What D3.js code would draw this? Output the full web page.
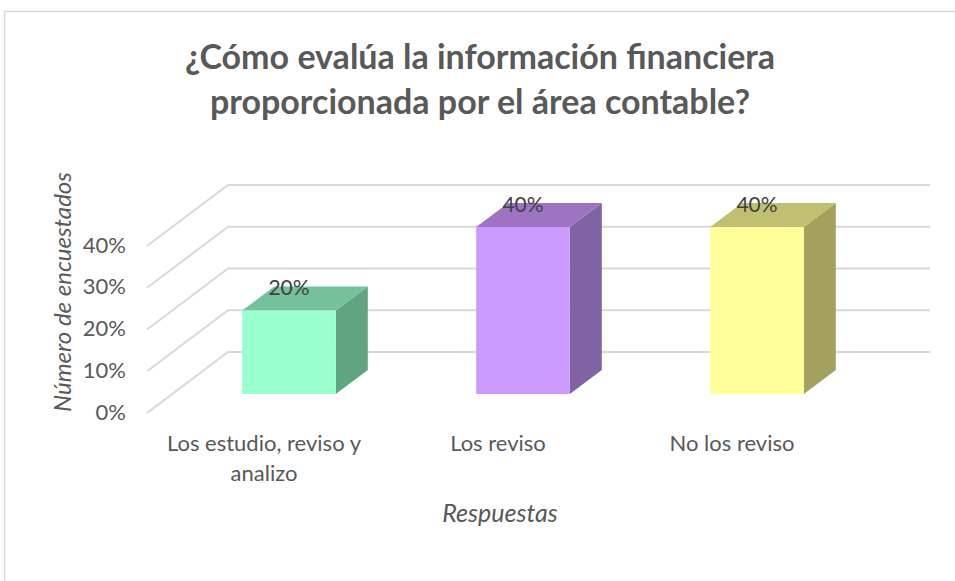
<!DOCTYPE html>
<html>
<head>
<meta charset="utf-8">
<script src="https://cdn.jsdelivr.net/npm/d3@7"></script>
<style>
  html, body { margin: 0; padding: 0; background: #fff; }
  svg { display: block; font-family: Lato, "Noto Sans", sans-serif; }
</style>
</head>
<body>
<svg id="chart" width="955" height="581"></svg>
<script>
// ---- data ----
const titleLines = ["¿Cómo evalúa la información financiera", "proporcionada por el área contable?"];
const categories = ["Los estudio, reviso y analizo", "Los reviso", "No los reviso"];
const values = [0.20, 0.40, 0.40];
const tickValues = [0, 0.1, 0.2, 0.3, 0.4];
const frontColors = ["#99FFCC", "#CC99FF", "#FFFF99"];
const topColors = ["#75C19B", "#9E74C2", "#C0C072"];
const sideColors = ["#60A57F", "#7F63A3", "#A2A25E"];
const yTitle = "Número de encuestados";
const xTitle = "Respuestas";

// ---- layout ----
const W = 955, H = 581;
const backLeft = 228, backRight = 930;
const floorDX = -81, floorDY = 61;          // back wall -> front edge of floor
const barFront = { dx: -56, dy: 42 };       // back wall -> bar front face
const barBack = { dx: -24, dy: 18 };        // back wall -> bar back face

const svg = d3.select("#chart");

// chart frame
svg.append("rect").attr("x", 4.5).attr("y", 11.5).attr("width", 1000).attr("height", 1000)
  .attr("fill", "#fff").attr("stroke", "#d9d9d9").attr("stroke-width", 1.5);

const x = d3.scaleBand().domain(categories).range([backLeft, backRight])
  .paddingInner(0.6).paddingOuter(0.3);
const y = d3.scaleLinear().domain([0, 0.4]).range([352, 185]);
const yFront = d3.scaleLinear().domain([0, 0.4]).range([352 + floorDY, 185 + floorDY]);

// gridlines (back wall + side wall)
const grid = svg.append("g").attr("stroke", "#d9d9d9").attr("stroke-width", 2).attr("fill", "none");
grid.selectAll("path").data(tickValues).join("path")
  .attr("d", t => `M${backRight},${y(t)}H${backLeft}l${floorDX},${floorDY}`);

// y axis labels
const yAxis = svg.append("g")
  .attr("transform", `translate(${backLeft + floorDX - 21},-1)`)
  .call(d3.axisLeft(yFront).tickValues(tickValues).tickFormat(d3.format(".0%")).tickSize(0).tickPadding(0));
yAxis.select(".domain").remove();
yAxis.selectAll("text").attr("fill", "#595959").style("font-size", "22px").style("font-family", "Lato, sans-serif");

// bars
const bars = svg.append("g");
categories.forEach((c, i) => {
  const x0 = x(c), x1 = x0 + x.bandwidth();
  const yv = y(values[i]), y0 = y(0);
  const g = bars.append("g");
  g.append("path").attr("fill", sideColors[i])
    .attr("d", `M${x1 + barFront.dx},${yv + barFront.dy}L${x1 + barBack.dx},${yv + barBack.dy}L${x1 + barBack.dx},${y0 + barBack.dy}L${x1 + barFront.dx},${y0 + barFront.dy}Z`);
  g.append("path").attr("fill", topColors[i])
    .attr("d", `M${x0 + barFront.dx},${yv + barFront.dy}L${x1 + barFront.dx},${yv + barFront.dy}L${x1 + barBack.dx},${yv + barBack.dy}L${x0 + barBack.dx},${yv + barBack.dy}Z`);
  g.append("rect").attr("fill", frontColors[i])
    .attr("x", x0 + barFront.dx).attr("y", yv + barFront.dy)
    .attr("width", x.bandwidth()).attr("height", y0 - yv);
  g.append("text")
    .attr("x", x0 + barFront.dx + x.bandwidth() / 2)
    .attr("y", yv + barBack.dy)
    .attr("text-anchor", "middle").attr("dominant-baseline", "central")
    .attr("fill", "#404040").style("font-size", "21px")
    .text(d3.format(".0%")(values[i]));
});

// category labels (wrapped)
function wrap(textSel, width) {
  textSel.each(function () {
    const text = d3.select(this);
    const words = text.text().split(/\s+/);
    const xPos = text.attr("x"), yPos = +text.attr("y");
    text.text(null);
    let line = [], lineNo = 0;
    let tspan = text.append("tspan").attr("x", xPos).attr("y", yPos);
    words.forEach(w => {
      line.push(w);
      tspan.text(line.join(" "));
      if (tspan.node().getComputedTextLength() > width && line.length > 1) {
        line.pop();
        tspan.text(line.join(" "));
        line = [w];
        lineNo++;
        tspan = text.append("tspan").attr("x", xPos).attr("y", yPos + lineNo * 30).text(w);
      }
    });
  });
}
svg.append("g").selectAll("text").data(categories).join("text")
  .attr("x", d => x(d) + x.bandwidth() / 2 + floorDX)
  .attr("y", y(0) + floorDY + 38)
  .attr("text-anchor", "middle").attr("fill", "#595959").style("font-size", "22px")
  .text(d => d)
  .call(wrap, 220);

// axis titles
svg.append("text")
  .attr("transform", `translate(71,292) rotate(-90)`)
  .attr("text-anchor", "middle").attr("fill", "#595959")
  .style("font-size", "24px").style("font-style", "italic")
  .text(yTitle);
svg.append("text")
  .attr("x", 500).attr("y", 522)
  .attr("text-anchor", "middle").attr("fill", "#595959")
  .style("font-size", "25px").style("font-style", "italic")
  .text(xTitle);

// title
svg.append("g").selectAll("text").data(titleLines).join("text")
  .attr("x", 480).attr("y", (d, i) => 69 + i * 45)
  .attr("text-anchor", "middle").attr("fill", "#595959")
  .style("font-size", "34px").style("font-weight", "bold")
  .text(d => d);
</script>
</body>
</html>
